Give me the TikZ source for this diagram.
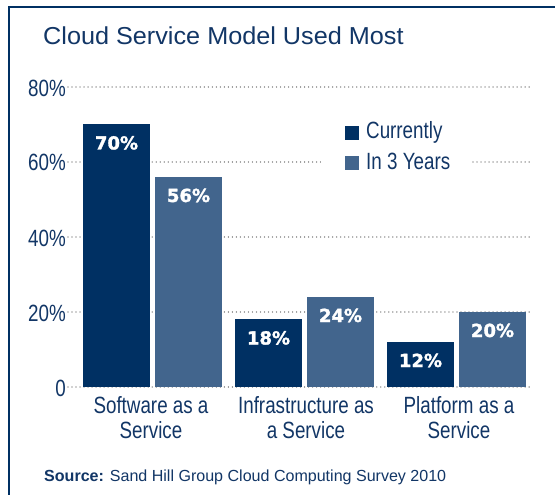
\documentclass[tikz,border=0pt]{standalone}
\usepackage{fontspec}
\setmainfont{Liberation Sans}
\newfontfamily\condfont[FakeStretch=0.8]{Liberation Sans}
\newfontfamily\titlefont[FakeStretch=1.03]{Liberation Sans}
\newfontfamily\valfont[FakeBold=1.6]{DejaVu Sans Bold}
\definecolor{darkbar}{RGB}{0,48,99}
\definecolor{lightbar}{RGB}{66,101,141}
\definecolor{textc}{RGB}{18,54,102}
\definecolor{gridc}{RGB}{150,150,150}
\tikzset{
  gridline/.style={gridc, line width=1.4pt, line cap=round, dash pattern=on 0.01pt off 4pt},
  ticklab/.style={textc, inner sep=0pt, anchor=base east, font=\condfont\fontsize{23.5}{25}\selectfont},
  catlab/.style={textc, inner sep=0pt, anchor=base, align=center, font=\condfont\fontsize{23.5}{25}\selectfont},
  leglab/.style={textc, inner sep=0pt, anchor=base west, font=\condfont\fontsize{23.5}{25}\selectfont},
  barnow/.style={fill=darkbar, inner sep=0pt, minimum width=67pt, anchor=south west},
  barlater/.style={fill=lightbar, inner sep=0pt, minimum width=67pt, anchor=south west},
  vallab/.style={white, inner sep=0pt, anchor=base, font=\valfont\fontsize{18}{20}\selectfont},
  legsq/.style={inner sep=0pt, minimum size=14pt, anchor=north west},
}
\begin{document}
\begin{tikzpicture}[x=1pt,y=-1pt]
\useasboundingbox (0,0) rectangle (555,495);
\fill[white] (0,0) rectangle (555,495);
% frame
\draw[darkbar, line width=2.5pt] (9,495) -- (9,7) -- (555,7);
% title
\node[textc, inner sep=0pt, anchor=base west, font=\titlefont\fontsize{24.5}{26}\selectfont] (title) at (43,45) {Cloud Service Model Used Most};
% grid and ticks
\foreach \v/\lab in {0/0,20/20\%,40/40\%,60/60\%,80/80\%}{
  \draw[gridline] (68,{387-3.75*\v}) -- (530,{387-3.75*\v});
  \node[ticklab] (tick\v) at (66,{387-3.75*\v+9}) {\lab};
}
% legend
\fill[white] (321,115) rectangle (470,180);
\node[legsq, fill=darkbar] (sqnow) at (345,126) {};
\node[leglab] (legnow) at (366,139) {Currently};
\node[legsq, fill=lightbar] (sqlater) at (345,156) {};
\node[leglab] (leglater) at (366,169) {In 3 Years};
% bars
\foreach \i/\a/\b/\name in {0/70/56/saas,1/18/24/iaas,2/12/20/paas}{
  \pgfmathsetmacro{\xa}{83+152*\i}
  \pgfmathsetmacro{\xb}{83+152*\i+72}
  \node[barnow, minimum height={3.75*\a pt}] (\name now) at (\xa,387) {};
  \node[barlater, minimum height={3.75*\b pt}] (\name later) at (\xb,387) {};
  \node[vallab] (\name nowval) at ({\xa+33.5},{387-3.75*\a+25}) {\a\%};
  \node[vallab] (\name laterval) at ({\xb+33.5},{387-3.75*\b+25}) {\b\%};
}
% category labels (anchor base = last line)
\node[catlab] (catsaas) at (151,438) {Software as a\\Service};
\node[catlab] (catiaas) at (306,438) {Infrastructure as\\a Service};
\node[catlab] (catpaas) at (459,438) {Platform as a\\Service};
% source
\node[textc, inner sep=0pt, anchor=base west, font=\fontsize{16.05}{18}\selectfont] (source) at (44,481) {\textbf{Source:} Sand Hill Group Cloud Computing Survey 2010};
\end{tikzpicture}
\end{document}
